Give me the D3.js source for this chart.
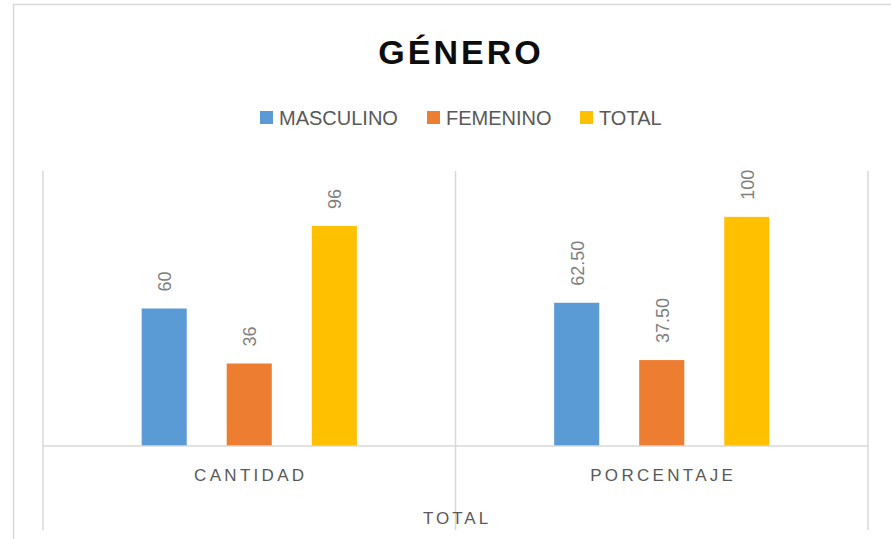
<!DOCTYPE html>
<html>
<head>
<meta charset="utf-8">
<script src="https://cdn.jsdelivr.net/npm/d3@7"></script>
<style>
  body { margin: 0; background: #fff; }
  svg { display: block; font-family: "Liberation Sans", Arial, sans-serif; }
</style>
</head>
<body>
<script>
// chart data
const categories = ['CANTIDAD', 'PORCENTAJE'];
const seriesNames = ['MASCULINO', 'FEMENINO', 'TOTAL'];
const masculino = [60, 62.5];
const femenino = [36, 37.5];
const total = [96, 100];
const labelText = [['60', '36', '96'], ['62.50', '37.50', '100']];
const colors = ['#5b9bd5', '#ed7d31', '#ffc000'];

const W = 891, H = 539;
const plot = { left: 43, right: 868, top: 171, bottom: 446 };

const svg = d3.select('body').append('svg')
  .attr('width', W)
  .attr('height', H);

// chart border (runs off right / bottom)
svg.append('rect')
  .attr('x', 13.5).attr('y', 4.5)
  .attr('width', 920).attr('height', 600)
  .attr('fill', '#fff')
  .attr('stroke', '#d9d9d9')
  .attr('stroke-width', 1.5);

// title
svg.append('text')
  .attr('x', 461).attr('y', 64)
  .attr('text-anchor', 'middle')
  .attr('font-size', 34)
  .attr('font-weight', 'bold')
  .attr('letter-spacing', 3)
  .attr('fill', '#0d0d0d')
  .text('GÉNERO');

// legend
const legendX = [260, 427, 580];
const legend = svg.append('g');
seriesNames.forEach((name, i) => {
  legend.append('rect')
    .attr('x', legendX[i]).attr('y', 111)
    .attr('width', 13).attr('height', 13)
    .attr('fill', colors[i]);
  legend.append('text')
    .attr('x', legendX[i] + 19).attr('y', 125)
    .attr('font-size', 20)
    .attr('fill', '#595959')
    .text(name);
});

// scales
const x0 = d3.scaleBand()
  .domain(categories)
  .range([plot.left, plot.right]);

const x1 = d3.scaleBand()
  .domain(seriesNames)
  .range([0, x0.bandwidth()])
  .paddingInner(0.47)
  .paddingOuter(1.16);

const y = d3.scaleLinear()
  .domain([0, 120])
  .range([plot.bottom, plot.top]);

// category separators
const seps = [plot.left, ...categories.map(c => x0(c) + x0.bandwidth())];
svg.append('g').selectAll('line')
  .data(seps)
  .join('line')
  .attr('x1', d => d).attr('x2', d => d)
  .attr('y1', plot.top).attr('y2', 530)
  .attr('stroke', '#d9d9d9')
  .attr('stroke-width', 1.5);

// bars
const rows = categories.map((c, i) => ({
  cat: c,
  vals: [masculino[i], femenino[i], total[i]],
  labels: labelText[i]
}));

const groups = svg.append('g').selectAll('g')
  .data(rows)
  .join('g')
  .attr('transform', d => `translate(${x0(d.cat)},0)`);

groups.selectAll('rect')
  .data(d => d.vals.map((v, j) => ({ name: seriesNames[j], v, j })))
  .join('rect')
  .attr('x', d => x1(d.name))
  .attr('y', d => y(d.v))
  .attr('width', x1.bandwidth())
  .attr('height', d => y(0) - y(d.v))
  .attr('fill', d => colors[d.j]);

// value labels, rotated
groups.selectAll('text')
  .data(d => d.vals.map((v, j) => ({ name: seriesNames[j], v, j, lab: d.labels[j] })))
  .join('text')
  .attr('transform', d => `translate(${x1(d.name) + x1.bandwidth() / 2 + 7},${y(d.v) - 17}) rotate(-90)`)
  .attr('font-size', 18)
  .attr('fill', '#7f7f7f')
  .text(d => d.lab);

// baseline
svg.append('line')
  .attr('x1', plot.left).attr('x2', plot.right)
  .attr('y1', plot.bottom).attr('y2', plot.bottom)
  .attr('stroke', '#d9d9d9')
  .attr('stroke-width', 1.5);

// category labels
svg.append('g').selectAll('text')
  .data(categories)
  .join('text')
  .attr('x', d => x0(d) + x0.bandwidth() / 2 + 1.5)
  .attr('y', 481)
  .attr('text-anchor', 'middle')
  .attr('font-size', 17)
  .attr('letter-spacing', 3.3)
  .attr('fill', '#595959')
  .text(d => d);

svg.append('text')
  .attr('x', (plot.left + plot.right) / 2 + 1.5)
  .attr('y', 524)
  .attr('text-anchor', 'middle')
  .attr('font-size', 17)
  .attr('letter-spacing', 3)
  .attr('fill', '#595959')
  .text('TOTAL');
</script>
</body>
</html>
